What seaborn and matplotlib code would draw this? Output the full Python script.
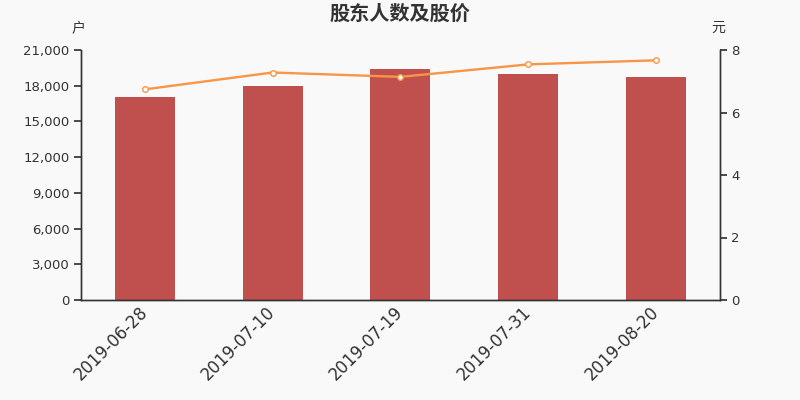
import numpy as np
import pandas as pd
import seaborn as sns
import matplotlib.pyplot as plt
from matplotlib.ticker import FuncFormatter

dates = ["2019-06-28", "2019-07-10", "2019-07-19", "2019-07-31", "2019-08-20"]
holders = [17050, 17990, 19380, 18980, 18700]
prices = [6.74, 7.28, 7.14, 7.54, 7.67]

df = pd.DataFrame({"date": dates, "holders": holders, "price": prices})

sns.set_theme(style="white")
plt.rcParams["font.family"] = ["DejaVu Sans", "Noto Sans CJK SC"]

bg = "#f9f9f9"
txt = "#333333"
fig = plt.figure(figsize=(8, 4), dpi=100, facecolor=bg)
ax = fig.add_axes([0.101, 0.25, 0.799, 0.625], facecolor=bg)

sns.barplot(data=df, x="date", y="holders", color="#c0504d", width=0.47,
            saturation=1, linewidth=0, ax=ax)
ax.set_xlim(-0.5, 4.5)
ax.set_ylim(0, 21000)
ax.set_yticks(np.arange(0, 21001, 3000))
ax.yaxis.set_major_formatter(FuncFormatter(lambda v, p: f"{int(v):,}"))
ax.set_xlabel("")
ax.set_ylabel("")

# ticks at category boundaries, labels at centres
ax.set_xticks(np.arange(-0.5, 5, 1))
ax.set_xticklabels([])
ax.set_xticks(range(len(dates)), minor=True)
ax.set_xticklabels(dates, minor=True, rotation=45, ha="right", va="center",
                   rotation_mode="anchor", fontsize=12, color=txt)
ax.tick_params(axis="x", which="minor", length=0, pad=7)
ax.tick_params(axis="x", which="major", length=5, color=txt)
ax.tick_params(axis="y", length=5, color=txt, labelsize=9.5,
               labelcolor=txt, left=True, pad=3)

ax2 = ax.twinx()
sns.lineplot(data=df, x="date", y="price", color="#f79646", linewidth=1.7,
             marker="o", markersize=4, markerfacecolor="white",
             markeredgecolor="#f79646", markeredgewidth=1, ax=ax2)
ax2.set_ylim(0, 8)
ax2.set_yticks(range(0, 9, 2))
ax2.set_ylabel("")
ax2.tick_params(axis="y", length=5, color=txt, labelsize=9.5,
                labelcolor=txt, right=True, pad=3)
ax.set_xlim(-0.5, 4.5)

for a in (ax, ax2):
    a.spines["top"].set_visible(False)
    for s in ("left", "right", "bottom"):
        a.spines[s].set_color(txt)
        a.spines[s].set_linewidth(1)

fig.text(0.5, 0.967, "股东人数及股价", ha="center", va="center",
         fontsize=14.5, fontweight="bold", color=txt,
         family=["Noto Sans CJK SC", "DejaVu Sans"])
fig.text(0.098, 0.93, "户", ha="center", va="center", fontsize=10, color=txt,
         family=["Noto Sans CJK SC", "DejaVu Sans"])
fig.text(0.898, 0.93, "元", ha="center", va="center", fontsize=10, color=txt,
         family=["Noto Sans CJK SC", "DejaVu Sans"])

fig.savefig("out.png", dpi=100, facecolor=bg)
